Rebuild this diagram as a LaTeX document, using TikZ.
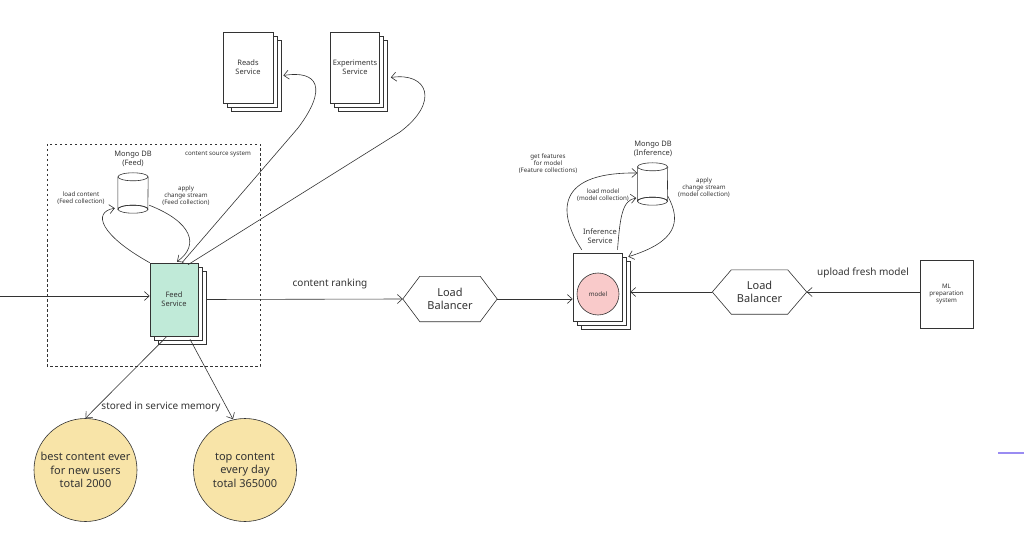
\documentclass[tikz,border=0pt]{standalone}
\usepackage{fontspec}
\setmainfont{Noto Sans}
\usetikzlibrary{arrows.meta,shadows,calc}
\definecolor{feedc}{HTML}{C0EAD8}
\definecolor{modelc}{HTML}{F9CACA}
\definecolor{memc}{HTML}{F8E4A8}
\definecolor{linec}{HTML}{333333}
\definecolor{lilac}{HTML}{9A8CF2}
\newcommand{\tinyf}{\fontsize{6.2}{7}\selectfont}
\newcommand{\smallf}{\fontsize{7.5}{9}\selectfont}
\newcommand{\midf}{\fontsize{10}{12}\selectfont}
\newcommand{\bigf}{\fontsize{11}{13.5}\selectfont}
\begin{document}
\begin{tikzpicture}[x=1pt,y=-1pt,
  every node/.style={text=linec},
  arr/.style={-{Straight Barb[length=5pt,width=9pt]}, line width=0.6pt, draw=linec},
  ln/.style={line width=0.6pt, draw=linec},
  doc/.style={draw=linec, line width=0.6pt, fill=white, align=center, inner sep=0pt,
    double copy shadow={shadow xshift=4pt, shadow yshift=-4pt, fill=white, draw=linec, line width=0.6pt}},
  hexbox/.style={minimum width=94pt, minimum height=45pt, inner sep=0pt, align=center, font=\bigf},
  hexs/.style={draw=linec, line width=0.6pt, fill=white},
  cylbox/.style={minimum width=30pt, minimum height=40pt, inner sep=0pt},
  lbl/.style={align=center, inner sep=0pt, font=\tinyf},
  memcirc/.style={circle, draw=linec, line width=0.6pt, fill=memc, minimum size=103pt, align=center, inner sep=0pt, font=\bigf}
]
\useasboundingbox (0,0) rectangle (1024,553);

% content source system box
\draw[linec, line width=0.6pt, dash pattern=on 2.5pt off 2.5pt] (47,144) rectangle (260,366);
\node[lbl] (css) at (218,154) {content source system};

% Feed Mongo DB
\node[cylbox] (db1) at (133,193) {};
\draw[ln, fill=white] (db1.north west) ++(0,4) -- ($(db1.south west)+(0,-4)$) arc[start angle=180, end angle=0, x radius=15pt, y radius=4pt] -- ($(db1.north east)+(0,4)$);
\draw[ln] ($(db1.north)+(0,4)$) ellipse[x radius=15pt, y radius=4pt];
\draw[ln] ($(db1.south)+(0,-4)$) ellipse[x radius=15pt, y radius=4pt];
\node[lbl, font=\smallf] (db1l) at (133,159) {Mongo DB\\(Feed)};
\node[lbl] (lc) at (81,198) {load content\\(Feed collection)};
\node[lbl] (acs1) at (186,196) {apply\\change stream\\(Feed collection)};

% Feed service
\node[doc, fill=feedc, minimum width=48pt, minimum height=73pt, font=\smallf] (feed) at (174,299.5) {Feed\\Service};

% Reads / Experiments
\node[doc, minimum width=50pt, minimum height=71pt, font=\smallf] (reads) at (248,67.5) {Reads\\Service};
\node[doc, minimum width=49pt, minimum height=71pt, font=\smallf] (exp) at (355,67.5) {Experiments\\Service};

% input
\coordinate (inL) at (0,296);
\draw[arr] (inL) -- (inL -| feed.west);

% feed <-> db
\draw[arr] (feed.north west) .. controls (100,235) and (92,212) .. ($(db1.south west)+(-3,-5)$);
\draw[arr] ($(db1.south east)+(1,-8)$) .. controls (192,222) and (200,245) .. ($(feed.north)+(3,-1)$);

% feed -> reads / experiments
\draw[arr] ($(feed.north)+(8,0)$) -- (298,128) .. controls (328,88) and (318,70) .. ($(reads.east)+(10,8)$);
\draw[arr] ($(feed.north)+(14,2)$) -- (400,132) .. controls (440,102) and (428,72) .. ($(exp.east)+(11,10)$);

% memory circles
\node[memcirc] (best) at (85.5,470) {best content ever\\for new users\\total 2000};
\node[memcirc] (top) at (245,470) {top content\\every day\\total 365000};
\draw[arr] ($(feed.south)+(-7,0)$) -- (best.north);
\draw[arr] ($(feed.south)+(16,3)$) -- ($(top.north)+(-12,1)$);
\node[lbl, font=\midf] (sism) at (161,407) {stored in service memory};

% Load balancer 1
\node[hexbox] (lb1) at (450,299) {};
\draw[hexs] (lb1.west) -- ($(lb1.north west)+(17,0)$) -- ($(lb1.north east)+(-17,0)$) -- (lb1.east) -- ($(lb1.south east)+(-17,0)$) -- ($(lb1.south west)+(17,0)$) -- cycle;
\node at (lb1) [align=center, font=\bigf] {Load\\Balancer};
\draw[arr] ($(feed.east)+(8,0)$) -- (lb1.west);
\node[lbl, font=\midf] (cr) at (330,284) {content ranking};

% Inference service
\node[doc, minimum width=49pt, minimum height=68pt] (inf) at (597.5,287) {};
\node[circle, draw=linec, line width=0.6pt, fill=modelc, minimum size=42pt, inner sep=0pt, font=\tinyf] (model) at (598,294) {model};
\node[lbl, font=\smallf] (infl) at (600,236) {Inference\\Service};
\draw[arr] (lb1.east) -- (inf.west |- lb1.east);

% Inference Mongo DB
\node[cylbox, minimum height=42pt] (db2) at (652.5,184) {};
\draw[ln, fill=white] (db2.north west) ++(0,4) -- ($(db2.south west)+(0,-4)$) arc[start angle=180, end angle=0, x radius=15pt, y radius=4pt] -- ($(db2.north east)+(0,4)$);
\draw[ln] ($(db2.north)+(0,4)$) ellipse[x radius=15pt, y radius=4pt];
\draw[ln] ($(db2.south)+(0,-4)$) ellipse[x radius=15pt, y radius=4pt];
\node[lbl, font=\smallf] (db2l) at (653,149) {Mongo DB\\(Inference)};
\node[lbl] (gf) at (548,164) {get features\\for model\\(Feature collections)};
\node[lbl] (lm) at (603,195) {load model\\(model collection)};
\node[lbl] (acs2) at (704,188) {apply\\change stream\\(model collection)};

\draw[arr] ($(inf.north west)+(9,-3)$) .. controls (562,220) and (548,172) .. ($(db2.west)+(0,-11)$);
\draw[arr] ($(inf.north)+(20,-3)$) .. controls (620,218) and (622,200) .. ($(db2.west)+(-1,14)$);
\draw[arr] ($(db2.east)+(0,12)$) .. controls (682,222) and (676,242) .. ($(inf.north east)+(6,4)$);

% Load balancer 2
\node[hexbox, minimum height=44pt] (lb2) at (759.5,292) {};
\draw[hexs] (lb2.west) -- ($(lb2.north west)+(19,0)$) -- ($(lb2.north east)+(-19,0)$) -- (lb2.east) -- ($(lb2.south east)+(-19,0)$) -- ($(lb2.south west)+(19,0)$) -- cycle;
\node at (lb2) [align=center, font=\bigf] {Load\\Balancer};
\draw[arr] (lb2.west) -- ($(inf.east |- lb2.west)+(8,0)$);

% ML preparation system
\node[draw=linec, line width=0.6pt, fill=white, minimum width=53pt, minimum height=68pt, align=center, inner sep=0pt, font=\tinyf] (ml) at (946.5,294) {ML\\preparation\\system};
\draw[arr] (ml.west |- lb2.east) -- (lb2.east);
\node[lbl, font=\midf] (ufm) at (863,273) {upload fresh model};

% stray purple line at right edge
\coordinate (pl) at (998,453);
\draw[lilac, line width=1.5pt] (pl) -- ++(26,0);
\end{tikzpicture}
\end{document}
